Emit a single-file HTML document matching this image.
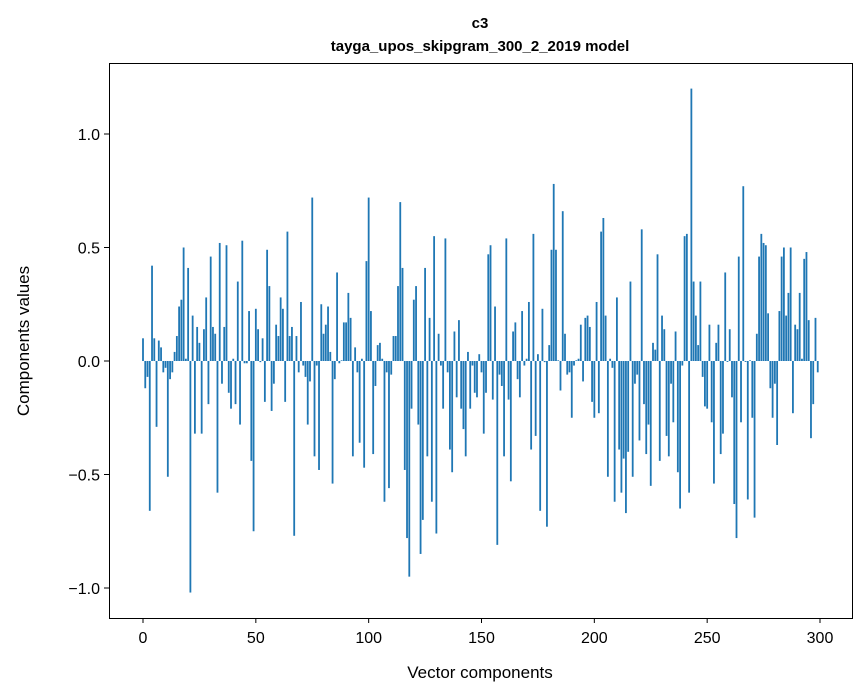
<!DOCTYPE html>
<html><head><meta charset="utf-8"><style>
body{margin:0;background:#fff;}
svg{display:block;font-family:"Liberation Sans","DejaVu Sans",sans-serif;}
</style></head><body>
<svg id="chart" width="867" height="696" viewBox="0 0 867 696">
<text x="480" y="28" text-anchor="middle" font-size="15" font-weight="bold">c3</text>
<text x="480" y="51" text-anchor="middle" font-size="15" font-weight="bold">tayga_upos_skipgram_300_2_2019 model</text>
<g id="bars"></g>
<rect x="109.5" y="63.5" width="743" height="555" fill="none" stroke="#000" stroke-width="1"/>
<g id="xticks"></g>
<g id="yticks"></g>
<text x="480" y="678" text-anchor="middle" font-size="17">Vector components</text>
<text transform="translate(29,341) rotate(-90)" text-anchor="middle" font-size="17">Components values</text>
</svg>
<script>
const values = [
0.10,-0.12,-0.07,-0.66,0.42,0.10,-0.29,0.09,0.06,-0.05,
-0.03,-0.51,-0.08,-0.05,0.04,0.11,0.24,0.27,0.50,0.01,
0.41,-1.02,0.20,-0.32,0.15,0.08,-0.32,0.14,0.28,-0.19,
0.46,0.15,0.12,-0.58,0.52,-0.10,0.15,0.51,-0.14,-0.21,
0.01,-0.19,0.35,-0.28,0.53,-0.01,-0.01,0.22,-0.44,-0.75,
0.23,0.14,-0.005,0.10,-0.18,0.49,0.33,-0.22,-0.10,0.16,
0.11,0.28,0.23,-0.18,0.57,0.11,0.15,-0.77,0.11,-0.05,
0.26,-0.02,-0.07,-0.28,-0.09,0.72,-0.42,-0.02,-0.48,0.25,
0.12,0.16,0.24,0.04,-0.54,-0.08,0.39,-0.01,0.003,0.17,
0.17,0.30,0.19,-0.42,0.06,-0.05,-0.36,0.01,-0.47,0.44,
0.72,0.22,-0.41,-0.11,0.07,0.08,0.01,-0.62,-0.05,-0.56,
-0.06,0.11,0.11,0.33,0.70,0.41,-0.48,-0.78,-0.95,-0.21,
0.27,0.33,-0.28,-0.85,-0.70,0.41,-0.42,0.19,-0.62,0.55,
-0.76,0.12,-0.02,-0.21,0.54,-0.05,-0.39,-0.49,0.13,-0.16,
0.18,-0.21,-0.30,-0.42,0.04,-0.21,-0.02,-0.14,-0.16,0.03,
-0.05,-0.32,-0.14,0.47,0.51,-0.17,0.24,-0.81,-0.06,-0.11,
-0.42,0.54,-0.17,-0.53,0.13,0.17,-0.08,-0.16,0.22,-0.02,
0.01,0.26,-0.39,0.56,-0.33,0.03,-0.66,0.23,-0.005,-0.73,
0.07,0.49,0.78,0.49,0.003,-0.13,0.66,0.12,-0.06,-0.05,
-0.25,-0.02,0.003,0.01,0.16,-0.09,0.19,0.20,0.15,-0.18,
-0.25,0.26,-0.23,0.57,0.63,0.20,-0.51,0.01,-0.03,-0.62,
0.28,-0.39,-0.58,-0.43,-0.67,-0.40,0.35,-0.51,-0.10,-0.06,
-0.35,0.58,-0.19,-0.41,-0.28,-0.55,0.08,0.05,0.47,-0.44,
0.20,0.14,-0.33,-0.42,-0.10,-0.27,0.13,-0.49,-0.65,-0.02,
0.55,0.56,-0.58,1.20,0.35,0.20,0.07,0.35,-0.07,-0.20,
-0.21,0.16,-0.27,-0.54,0.08,0.16,-0.41,-0.32,0.39,-0.004,
0.14,-0.16,-0.63,-0.78,0.46,-0.27,0.77,-0.004,-0.61,0.003,
-0.25,-0.69,0.12,0.46,0.56,0.52,0.51,0.21,-0.12,-0.25,
-0.10,-0.37,0.22,0.46,0.50,0.20,0.30,0.50,-0.23,0.16,
0.14,0.30,0.01,0.45,0.48,0.18,-0.34,-0.19,0.19,-0.05
];
const xTicks = [0,50,100,150,200,250,300];
const yTicks = [-1.0,-0.5,0.0,0.5,1.0];
const yTickLabels = ["\u22121.0","\u22120.5","0.0","0.5","1.0"];

const NS = "http://www.w3.org/2000/svg";
function xScale(v){ return 143 + v*(820-143)/300; }
function yScale(v){ return 361 - v*227; }
const bw = 0.8*(820-143)/300;
const gb = document.getElementById('bars');
values.forEach((v,i)=>{
  const r = document.createElementNS(NS,'rect');
  const y0 = yScale(0), y1 = yScale(v);
  r.setAttribute('x', xScale(i)-bw/2);
  r.setAttribute('y', Math.min(y0,y1));
  r.setAttribute('width', bw);
  r.setAttribute('height', Math.max(Math.abs(y1-y0),0.3));
  r.setAttribute('fill', '#1f77b4');
  
  
  gb.appendChild(r);
});
const gx = document.getElementById('xticks');
xTicks.forEach(t=>{
  const x = xScale(t);
  const l = document.createElementNS(NS,'line');
  l.setAttribute('x1',x);l.setAttribute('x2',x);l.setAttribute('y1',618);l.setAttribute('y2',623);
  l.setAttribute('stroke','#000');
  
  
  gx.appendChild(l);
  const tx = document.createElementNS(NS,'text');
  tx.setAttribute('x',x);tx.setAttribute('y',643);tx.setAttribute('text-anchor','middle');tx.setAttribute('font-size','16');
  tx.textContent = t;
  
  
  gx.appendChild(tx);
});
const gy = document.getElementById('yticks');
yTicks.forEach((t,i)=>{
  const y = yScale(t);
  const l = document.createElementNS(NS,'line');
  l.setAttribute('x1',104);l.setAttribute('x2',109);l.setAttribute('y1',y);l.setAttribute('y2',y);
  l.setAttribute('stroke','#000');
  
  
  gy.appendChild(l);
  const tx = document.createElementNS(NS,'text');
  tx.setAttribute('x',100);tx.setAttribute('y',y+6);tx.setAttribute('text-anchor','end');tx.setAttribute('font-size','16');
  tx.textContent = yTickLabels[i];
  
  
  gy.appendChild(tx);
});
</script>
</body></html>
